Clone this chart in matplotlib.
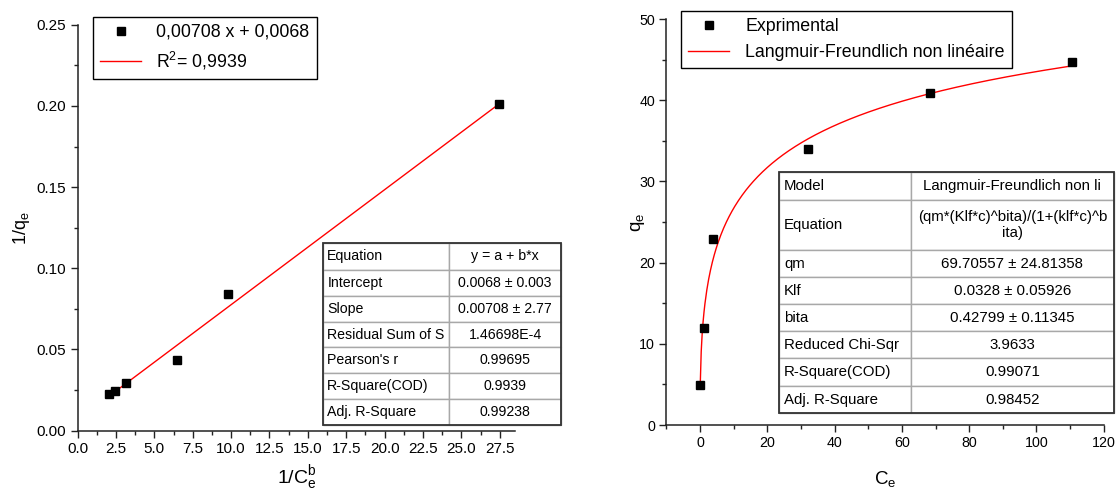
import numpy as np
import matplotlib
matplotlib.use("Agg")
import matplotlib.pyplot as plt
from matplotlib.ticker import MultipleLocator, FormatStrFormatter
from matplotlib.table import Table
from matplotlib.patches import Rectangle

plt.rcParams["font.family"] = ["Liberation Sans", "DejaVu Sans"]
plt.rcParams["mathtext.fontset"] = "custom"
plt.rcParams["mathtext.rm"] = "Liberation Sans"
plt.rcParams["mathtext.it"] = "Liberation Sans:italic"

# Linearised Langmuir-Freundlich: 1/qe vs 1/Ce^b
inv_ce = [2.04, 2.43, 3.16, 6.48, 9.81, 27.48]
inv_qe = [0.0225, 0.0245, 0.0295, 0.0435, 0.0840, 0.2010]
lin_intercept = 0.0068
lin_slope = 0.00708
lin_rows = [
    ("Equation", "y = a + b*x"),
    ("Intercept", "0.0068 ± 0.003"),
    ("Slope", "0.00708 ± 2.77"),
    ("Residual Sum of S", "1.46698E-4"),
    ("Pearson's r", "0.99695"),
    ("R-Square(COD)", "0.9939"),
    ("Adj. R-Square", "0.99238"),
]

# Non-linear fit: qe vs Ce
ce = [0.05, 1.1, 3.86, 32.0, 68.3, 110.6]
qe = [4.93, 11.9, 22.94, 33.99, 40.85, 44.67]
qm, klf, bita = 69.70557, 0.0328, 0.42799
nl_rows = [
    ("Model", "Langmuir-Freundlich non li"),
    ("Equation", "(qm*(Klf*c)^bita)/(1+(klf*c)^b\nita)"),
    ("qm", "69.70557 ± 24.81358"),
    ("Klf", "0.0328 ± 0.05926"),
    ("bita", "0.42799 ± 0.11345"),
    ("Reduced Chi-Sqr", "3.9633"),
    ("R-Square(COD)", "0.99071"),
    ("Adj. R-Square", "0.98452"),
]

LEG_FS = 12.8


def style_axes(ax, tick_fs):
    for side in ("top", "right"):
        ax.spines[side].set_visible(False)
    for side in ("left", "bottom"):
        ax.spines[side].set_linewidth(1.1)
        ax.spines[side].set_color("#222222")
    ax.tick_params(which="both", direction="out", width=1.0, color="#222222",
                   labelsize=tick_fs, pad=3.2)
    ax.tick_params(which="major", length=5)
    ax.tick_params(which="minor", length=2.8)


def style_legend(leg):
    leg.get_frame().set_edgecolor("black")
    leg.get_frame().set_linewidth(1.0)


def add_fit_table(ax, rows, bbox, col_w, row_h, fs, pad):
    tbl = Table(ax, bbox=bbox)
    tbl.auto_set_font_size(False)
    for r, (name, val) in enumerate(rows):
        for c, (txt, loc) in enumerate(((name, "left"), (val, "center"))):
            cell = tbl.add_cell(r, c, width=col_w[c], height=row_h[r], text=txt,
                                loc=loc, facecolor="white", edgecolor="#a8a8a8")
            cell.PAD = pad
            cell.set_linewidth(1.0)
            cell.get_text().set_fontsize(fs)
    tbl.set_zorder(5)
    tbl.set_clip_on(False)
    ax.add_table(tbl)
    ax.add_patch(Rectangle((bbox[0], bbox[1]), bbox[2], bbox[3], transform=ax.transAxes,
                           fill=False, edgecolor="#333333", lw=1.3, zorder=6,
                           clip_on=False))


fig = plt.figure(figsize=(11.16, 4.95), dpi=100)

# left panel: linear fit
ax1 = fig.add_axes([0.0696, 0.1299, 0.3919, 0.8202])
style_axes(ax1, 11)
xl = np.array([inv_ce[0], inv_ce[-1]])
ax1.plot(xl, lin_intercept + lin_slope * xl, color="red", lw=1.0, zorder=2,
         label="R$^{\\mathrm{2}}$= 0,9939")
ax1.plot(inv_ce, inv_qe, ls="none", marker="s", ms=6, color="black", zorder=3,
         label="0,00708 x + 0,0068")
ax1.set_xlim(0, 28.5)
ax1.set_ylim(0, 0.25)
ax1.xaxis.set_major_locator(MultipleLocator(2.5))
ax1.xaxis.set_minor_locator(MultipleLocator(1.25))
ax1.yaxis.set_major_locator(MultipleLocator(0.05))
ax1.yaxis.set_minor_locator(MultipleLocator(0.025))
ax1.xaxis.set_major_formatter(FormatStrFormatter("%.1f"))
ax1.yaxis.set_major_formatter(FormatStrFormatter("%.2f"))
ax1.set_xlabel("1/C$^{\\mathrm{b}}_{\\mathrm{e}}$", fontsize=14, labelpad=5)
ax1.set_ylabel("1/q$_{\\mathrm{e}}$", fontsize=13, labelpad=3.5)
h, l = ax1.get_legend_handles_labels()
leg = ax1.legend(h[::-1], l[::-1], loc="upper left", bbox_to_anchor=(0.0357, 1.0197),
                 borderaxespad=0, fontsize=LEG_FS, fancybox=False, numpoints=1,
                 handlelength=2.3, handletextpad=0.85, labelspacing=0.5, framealpha=1)
style_legend(leg)
add_fit_table(ax1, lin_rows, [0.5603, 0.014, 0.5449, 0.449], [0.531, 0.469],
              [27.3, 25.7, 26, 25.6, 26, 25.7, 26], 10.2, 0.036)

# right panel: non-linear fit
ax2 = fig.add_axes([0.5971, 0.1414, 0.3919, 0.8202])
style_axes(ax2, 10.3)
c = np.linspace(0.08, ce[-1], 400)
kc = (klf * c) ** bita
ax2.plot(ce, qe, ls="none", marker="s", ms=6, color="black", zorder=3,
         label="Exprimental")
ax2.plot(c, qm * kc / (1 + kc), color="red", lw=1.0, zorder=2,
         label="Langmuir-Freundlich non linéaire")
ax2.set_xlim(-10, 120)
ax2.set_ylim(0, 50)
ax2.xaxis.set_major_locator(MultipleLocator(20))
ax2.xaxis.set_minor_locator(MultipleLocator(10))
ax2.yaxis.set_major_locator(MultipleLocator(10))
ax2.yaxis.set_minor_locator(MultipleLocator(5))
ax2.set_xlabel("C$_{\\mathrm{e}}$", fontsize=13.5, labelpad=13.5)
ax2.set_ylabel("q$_{\\mathrm{e}}$", fontsize=13.5, labelpad=-6)
leg = ax2.legend(loc="upper left", bbox_to_anchor=(0.0341, 1.0197), borderaxespad=0,
                 fontsize=LEG_FS, fancybox=False, numpoints=1, handlelength=2.3,
                 handletextpad=0.9, labelspacing=0.5, framealpha=1)
style_legend(leg)
add_fit_table(ax2, nl_rows, [0.2568, 0.0288, 0.7668, 0.5951], [0.3937, 0.6063],
              [28.3, 50, 27.3, 27, 26.7, 27.3, 27.4, 27.6], 10.8, 0.042)

fig.savefig("out.png", dpi=100)
